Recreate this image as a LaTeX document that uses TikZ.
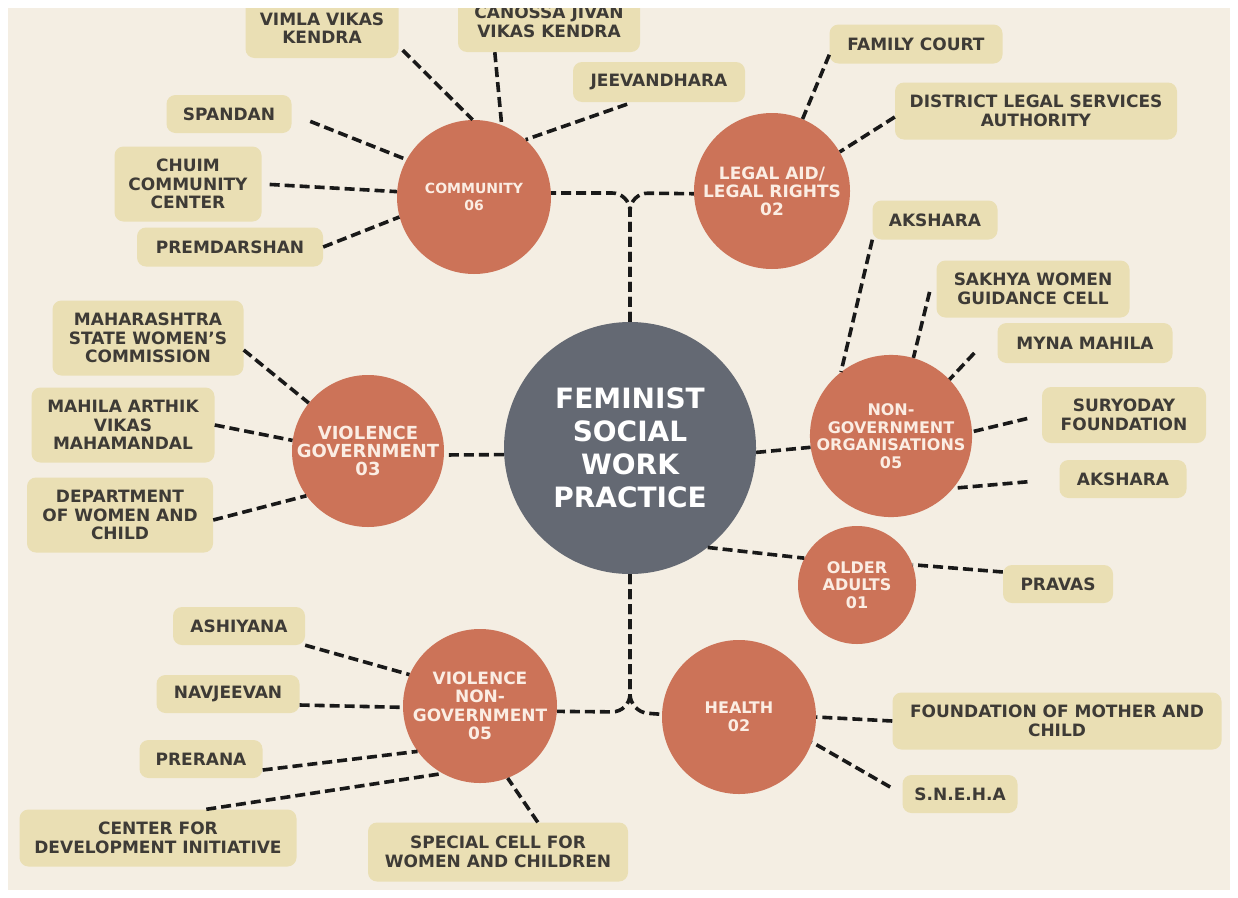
\documentclass[tikz,border=0pt]{standalone}
\usepackage{fontspec}
\setmainfont{DejaVu Sans}
\usetikzlibrary{calc}
\definecolor{bgc}{HTML}{F4EEE3}
\definecolor{boxc}{HTML}{EADFB4}
\definecolor{circc}{HTML}{CC7358}
\definecolor{hubc}{HTML}{646973}
\definecolor{leaftext}{HTML}{3E3B36}
\definecolor{bubtext}{HTML}{FBEDE3}
\begin{document}
\begin{tikzpicture}[x=1pt,y=-1pt,
  leaf/.style={fill=boxc, rounded corners=9pt, inner sep=0pt, align=center,
    font=\bfseries\fontsize{17}{18.5}\selectfont, text=leaftext},
  bub/.style={circle, fill=circc, inner sep=0pt, align=center, text=bubtext},
  link/.style={draw=black!90, line width=3.6pt, dash pattern=on 10pt off 5pt}]
\useasboundingbox (0,0) rectangle (1238,897);
\fill[white] (0,0) rectangle (1238,897);
\begin{scope}
\clip (8,8) rectangle (1230,890);
\fill[bgc] (8,8) rectangle (1230,890);

% hub and bubbles
\node[circle, fill=hubc, minimum size=252pt, inner sep=0pt, align=center, text=white,
  font=\bfseries\fontsize{28}{33}\selectfont] (hub) at (630,448) {\\[-12pt]FEMINIST\\SOCIAL\\WORK\\PRACTICE};
\node[bub, minimum size=154pt, font=\bfseries\fontsize{14}{17}\selectfont] (comm) at (474,197) {COMMUNITY\\06};
\node[bub, minimum size=156pt, font=\bfseries\fontsize{17}{18}\selectfont] (legal) at (772,191) {LEGAL AID/\\LEGAL RIGHTS\\02};
\node[bub, minimum size=152pt, font=\bfseries\fontsize{18}{18}\selectfont] (vg) at (368,451) {VIOLENCE\\GOVERNMENT\\03};
\node[bub, minimum size=162pt, font=\bfseries\fontsize{16}{17.5}\selectfont] (ngo) at (891,436) {NON-\\GOVERNMENT\\ORGANISATIONS\\05};
\node[bub, minimum size=118pt, font=\bfseries\fontsize{16}{17.5}\selectfont] (older) at (857,585) {OLDER\\ADULTS\\01};
\node[bub, minimum size=154pt, font=\bfseries\fontsize{16}{17.7}\selectfont] (health) at (739,717) {HEALTH\\02};
\node[bub, minimum size=154pt, font=\bfseries\fontsize{17}{18.5}\selectfont] (vng) at (480,706) {VIOLENCE\\NON-\\GOVERNMENT\\05};

% leaves: community
\node[leaf, minimum width=153pt, minimum height=60pt] (vimla) at (322,28) {VIMLA VIKAS\\KENDRA};
\node[leaf, minimum width=182pt, minimum height=60pt] (canossa) at (549,22) {CANOSSA JIVAN\\VIKAS KENDRA};
\node[leaf, minimum width=172pt, minimum height=40pt] (jeev) at (659,82) {JEEVANDHARA};
\node[leaf, minimum width=125pt, minimum height=38pt] (spandan) at (229,114) {SPANDAN};
\node[leaf, minimum width=147pt, minimum height=75pt] (chuim) at (188,184) {CHUIM\\COMMUNITY\\CENTER};
\node[leaf, minimum width=186pt, minimum height=39pt] (prem) at (230,247) {PREMDARSHAN};
% legal
\node[leaf, minimum width=173pt, minimum height=39pt] (family) at (916,44) {FAMILY COURT};
\node[leaf, minimum width=282pt, minimum height=57pt] (district) at (1036,111) {DISTRICT LEGAL SERVICES\\AUTHORITY};
% ngo
\node[leaf, minimum width=125pt, minimum height=39pt] (ak1) at (935,220) {AKSHARA};
\node[leaf, minimum width=193pt, minimum height=57pt] (sakhya) at (1033,289) {SAKHYA WOMEN\\GUIDANCE CELL};
\node[leaf, minimum width=175pt, minimum height=40pt] (myna) at (1085,343) {MYNA MAHILA};
\node[leaf, minimum width=164pt, minimum height=56pt] (surya) at (1124,415) {SURYODAY\\FOUNDATION};
\node[leaf, minimum width=127pt, minimum height=38pt] (ak2) at (1123,479) {AKSHARA};
% older
\node[leaf, minimum width=110pt, minimum height=38pt] (pravas) at (1058,584) {PRAVAS};
% health
\node[leaf, minimum width=329pt, minimum height=57pt] (found) at (1057,721) {FOUNDATION OF MOTHER AND\\CHILD};
\node[leaf, minimum width=115pt, minimum height=38pt] (sneha) at (960,794) {S.N.E.H.A};
% violence government
\node[leaf, minimum width=191pt, minimum height=75pt] (maha) at (148,338) {MAHARASHTRA\\STATE WOMEN’S\\COMMISSION};
\node[leaf, minimum width=183pt, minimum height=75pt] (mahila) at (123,425) {MAHILA ARTHIK\\VIKAS\\MAHAMANDAL};
\node[leaf, minimum width=186pt, minimum height=75pt] (dept) at (120,515) {DEPARTMENT\\OF WOMEN AND\\CHILD};
% violence non-government
\node[leaf, minimum width=132pt, minimum height=38pt] (ashi) at (239,626) {ASHIYANA};
\node[leaf, minimum width=143pt, minimum height=38pt] (navj) at (228,694) {NAVJEEVAN};
\node[leaf, minimum width=123pt, minimum height=38pt] (prer) at (201,759) {PRERANA};
\node[leaf, minimum width=277pt, minimum height=57pt] (cdi) at (158,838) {CENTER FOR\\DEVELOPMENT INITIATIVE};
\node[leaf, minimum width=260pt, minimum height=59pt] (spec) at (498,852) {SPECIAL CELL FOR\\WOMEN AND CHILDREN};

% hub connectors
\coordinate (topj) at (630,193);
\coordinate (botj) at (630,712);
\draw[link, rounded corners=18pt] (hub.north) -- (topj) -- (comm.3);
\draw[link, rounded corners=18pt] (hub.north) -- (topj) -- (legal.182);
\draw[link, rounded corners=18pt] (hub.south) -- (botj) -- (vng.-4);
\draw[link, rounded corners=18pt] (hub.south) -- (botj) -- (health.178);
\draw[link] (hub.183) -- (vg.-3);
\draw[link] (hub.-2) -- (ngo.188);
\draw[link] (hub.-52) -- (older.153);

% community leaves
\draw[link] ([xshift=4pt,yshift=8pt]vimla.south east) -- (comm.91);
\draw[link] ([xshift=37pt]canossa.south west) -- (comm.69);
\draw[link, shorten <=6pt] ([xshift=60pt]jeev.south west) -- (comm.48);
\draw[link, shorten <=20pt] (spandan.east) -- (comm.151);
\draw[link, shorten <=8pt] (chuim.east) -- (comm.176);
\draw[link] (prem.east) -- (comm.195);
% legal leaves
\draw[link] ([yshift=9pt]family.south west) -- (legal.67);
\draw[link] ([yshift=-6pt]district.west) -- (legal.30);
% ngo leaves
\draw[link] (ak1.south west) -- (ngo.128);
\draw[link, shorten <=3pt] ([xshift=-6pt]sakhya.west) -- (ngo.74);
\draw[link] ([xshift=-23pt,yshift=-10pt]myna.west) -- (ngo.44);
\draw[link, shorten <=15pt] (surya.west) -- (ngo.3);
\draw[link, shorten <=32pt] (ak2.west) -- (ngo.-40);
% older
\draw[link] ([yshift=12pt]pravas.west) -- (older.20);
% health
\draw[link] (found.west) -- (health.0);
\draw[link, shorten <=14pt] (sneha.west) -- (health.-19);
% violence government
\draw[link] ([yshift=-12pt]maha.east) -- (vg.141);
\draw[link] (mahila.east) -- (vg.172);
\draw[link] ([yshift=-5pt]dept.east) -- (vg.216);
% violence non-government
\draw[link] (ashi.south east) -- (vng.156);
\draw[link] ([yshift=-11pt]navj.east) -- (vng.181);
\draw[link] ([yshift=-11pt]prer.east) -- (vng.216);
\draw[link] ([xshift=187pt]cdi.north west) -- (vng.241);
\draw[link] ([xshift=170pt]spec.north west) -- (vng.-69);
\end{scope}
\end{tikzpicture}
\end{document}
